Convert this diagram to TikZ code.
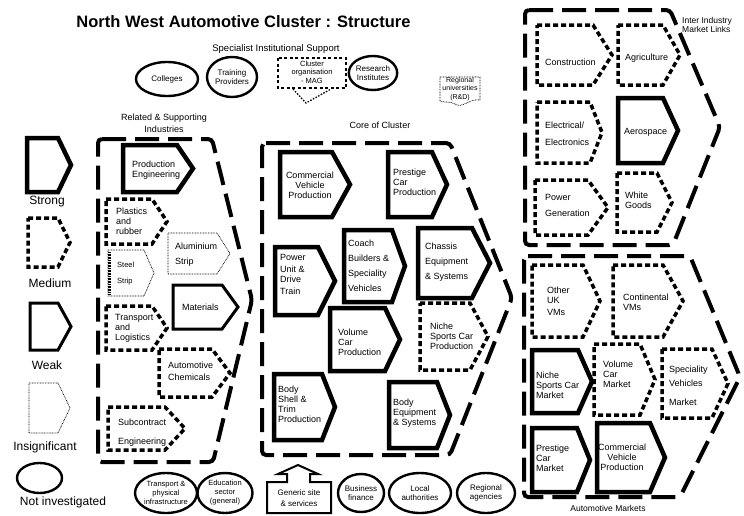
\documentclass[tikz,border=0pt]{standalone}
\usepackage{fontspec}
\setmainfont{Liberation Sans}
\usetikzlibrary{shapes.geometric}

\tikzset{
  strong/.style={line width=4.5pt, line join=miter},
  medium/.style={line width=3.5pt, dash pattern=on 5pt off 3pt},
  weak/.style={line width=3pt, line join=miter},
  insig/.style={line width=0.7pt, dash pattern=on 0.8pt off 0.8pt},
  group/.style={line width=4pt, dash pattern=on 24pt off 9pt, rounded corners=4pt},
  oval/.style={ellipse, draw, line width=2.4pt, inner sep=0pt, align=center,
    font=\fontsize{7.5}{9}\selectfont},
  lbl/.style={anchor=west, align=left, inner sep=0pt, font=\fontsize{9}{10}\selectfont},
  clbl/.style={align=center, inner sep=0pt, font=\fontsize{9}{10}\selectfont},
  hd/.style={align=center, inner sep=0pt, font=\fontsize{9}{12}\selectfont},
  legend/.style={inner sep=0pt, font=\fontsize{12}{14}\selectfont},
}

% pentagon arrow box: [style]{x1}{y1}{x2}{y2}{x where the point begins}
\newcommand\pentbox[6][strong]{%
  \draw[#1] (#2,#3) -- (#6,#3) -- (#4,{(#3+#5)/2}) -- (#6,#5) -- (#2,#5) -- cycle;}

\begin{document}
\begin{tikzpicture}[x=1pt,y=-1pt]
\useasboundingbox (0,0) rectangle (744,515);

% ---------- headings ----------
\node[font=\bfseries\fontsize{16.5}{18}\selectfont, inner sep=0pt] (title) at (243.5,22)
  {North West Automotive Cluster : Structure};
\node[hd, font=\fontsize{9.5}{12}\selectfont] (spec) at (276,49) {Specialist Institutional Support};
\node[hd] (rsi) at (164,123) {Related \& Supporting\\Industries};
\node[hd] (core) at (380,125) {Core of Cluster};
\node[hd, anchor=west, align=left, font=\fontsize{8.5}{9}\selectfont] (iiml) at (682,24.5)
  {Inter Industry\\Market Links};
\node[hd, font=\fontsize{8.5}{10}\selectfont] (am) at (608,508) {Automotive Markets};

% ---------- legend ----------
\pentbox[strong]{27}{138}{71}{192}{58}
\node[legend] (lgstrong) at (47,202) {Strong};
\pentbox[medium]{28}{218}{70}{267}{58}
\node[legend] (lgmedium) at (50,283) {Medium};
\pentbox[weak]{30}{303}{71}{350}{58}
\node[legend] (lgweak) at (47,365) {Weak};
\pentbox[insig]{29}{383}{70}{433}{58}
\node[legend] (lginsig) at (45,447) {Insignificant};
\node[oval, minimum width=45pt, minimum height=30pt] (lgoval) at (39.5,478) {};
\node[legend] (lgnotinv) at (63,502) {Not investigated};

% ---------- specialist institutional support ----------
\node[oval, font=\fontsize{8}{9}\selectfont, minimum width=62pt, minimum height=34pt]
  (colleges) at (167,79) {Colleges};
\node[oval, font=\fontsize{8}{9}\selectfont, minimum width=50pt, minimum height=40pt]
  (training) at (232,77) {Training\\Providers};
\draw[line width=2.2pt, dash pattern=on 3pt off 2.5pt] (278,58) rectangle (346,88);
\draw[line width=1.3pt, dash pattern=on 1.5pt off 1.5pt] (293,89) -- (306,103) -- (331,89);
\node[clbl, font=\fontsize{7.5}{8.5}\selectfont] (clusterorg) at (312,72)
  {Cluster\\organisation\\- MAG};
\node[oval, font=\fontsize{8}{9}\selectfont, minimum width=48pt, minimum height=34pt]
  (research) at (373,73) {Research\\Institutes};
\draw[insig] (440,101) -- (440,77) -- (480,77) -- (480,100)
  .. controls (470,98) and (462,109) .. (455,104)
  .. controls (450,101) and (445,103) .. (440,101);
\node[clbl, font=\fontsize{7}{8.5}\selectfont] (reguni) at (460,89)
  {Regional\\universities\\(R\&D)};

% ---------- related & supporting industries ----------
\draw[group] (98,139) -- (212,139) -- (252,300) -- (213,462) -- (98,462) -- cycle;
\pentbox[strong]{123}{145}{193}{192}{177}
\node[lbl] (tprod) at (132,170) {Production\\Engineering};
\pentbox[medium]{106}{199}{167}{244}{152}
\node[lbl] (tplas) at (116,221) {Plastics\\and\\rubber};
\pentbox[insig]{168}{233}{230}{274}{217}
\node[lbl] (talu) at (175,254.5) {Aluminium\\[5pt]Strip};
\pentbox[insig]{108}{250}{154}{296}{144}
\draw[line width=3pt, dash pattern=on 0.7pt off 0.9pt] (109.5,252) -- (109.5,294);
\node[lbl, font=\fontsize{7.5}{9}\selectfont] (tsteel) at (117,274) {Steel\\[7pt]Strip};
\pentbox[weak]{173}{285}{238}{329}{222}
\node[lbl] (tmat) at (182,307) {Materials};
\pentbox[medium]{106}{306}{167}{350}{152}
\node[lbl] (ttrans) at (115,328.5) {Transport\\and\\Logistics};
\pentbox[medium]{159}{349}{230}{397}{212}
\node[lbl] (tchem) at (168,371) {Automotive\\[2pt]Chemicals};
\pentbox[medium]{108}{407}{185}{450}{165}
\node[lbl] (tsub) at (118,432.5) {Subcontract\\[9pt]Engineering};

% ---------- core of cluster ----------
\draw[group] (262,143) -- (450,143) -- (512,298) -- (450,455) -- (262,455) -- cycle;
\pentbox[strong]{280}{152}{350}{217}{332}
\node[clbl] (tcvp) at (310,185) {Commercial\\Vehicle\\Production};
\pentbox[strong]{388}{152}{447}{217}{432}
\node[lbl] (tpcp) at (393,182.5) {Prestige\\Car\\Production};
\pentbox[strong]{275}{247}{335}{315}{318}
\node[lbl] (tpower) at (280,274.5) {Power\\[2pt]Unit \&\\Drive\\[2pt]Train};
\pentbox[strong]{344}{230}{405}{302}{392}
\node[lbl] (tcoach) at (348,266) {Coach\\[5pt]Builders \&\\[5pt]Speciality\\[5pt]Vehicles};
\pentbox[strong]{418}{228}{490}{298}{472}
\node[lbl] (tchassis) at (425,262) {Chassis\\[5pt]Equipment\\[5pt]\& Systems};
\pentbox[strong]{330}{308}{400}{371}{385}
\node[lbl] (tvol) at (338,342.5) {Volume\\Car\\Production};
\pentbox[medium]{420}{303}{488}{370}{470}
\node[lbl] (tniche) at (430,336.5) {Niche\\Sports Car\\Production};
\pentbox[strong]{274}{374}{335}{440}{322}
\node[lbl] (tbody) at (278,404.5) {Body\\Shell \&\\Trim\\Production};
\pentbox[strong]{389}{382}{450}{448}{437}
\node[lbl] (tbeq) at (393,413) {Body\\Equipment\\\& Systems};

% ---------- inter industry market links ----------
\draw[group] (525,10) -- (670,10) -- (720,127) -- (673,245) -- (525,245) -- cycle;
\pentbox[medium]{537}{25}{612}{85}{593}
\node[lbl] (tcons) at (545,62) {Construction};
\pentbox[medium]{618}{25}{680}{85}{663}
\node[lbl] (tagri) at (625,58) {Agriculture};
\pentbox[medium]{537}{102}{602}{163}{590}
\node[lbl] (telec) at (545,133.5) {Electrical/\\[7pt]Electronics};
\pentbox[strong]{618}{98}{678}{163}{663}
\node[lbl] (taero) at (624,132) {Aerospace};
\pentbox[medium]{535}{180}{608}{235}{588}
\node[lbl] (tpowg) at (545,205) {Power\\[6pt]Generation};
\pentbox[medium]{617}{173}{672}{232}{657}
\node[lbl] (twhite) at (625,200) {White\\Goods};

% ---------- automotive markets ----------
\draw[group] (524,256) -- (690,256) -- (740,377) -- (680,497) -- (524,497) -- cycle;
\pentbox[medium]{532}{265}{600}{337}{583}
\node[lbl] (tother) at (547,301.5) {Other\\UK\\[2pt]VMs};
\pentbox[medium]{613}{265}{683}{337}{663}
\node[lbl] (tcont) at (623,302) {Continental\\VMs};
\pentbox[strong]{532}{350}{592}{413}{578}
\node[lbl] (tnichem) at (536,385) {Niche\\Sports Car\\Market};
\pentbox[medium]{594}{344}{655}{415}{640}
\node[lbl] (tvolm) at (603,374.5) {Volume\\Car\\Market};
\pentbox[medium]{662}{349}{728}{418}{712}
\node[lbl] (tspec) at (669,385.5) {Speciality\\[4pt]Vehicles\\[9pt]Market};
\pentbox[strong]{532}{428}{590}{492}{577}
\node[lbl] (tprem) at (536,458.5) {Prestige\\Car\\Market};
\pentbox[strong]{597}{423}{665}{492}{650}
\node[clbl] (tcvpm) at (622,457.5) {Commercial\\Vehicle\\Production};

% ---------- generic support along the bottom ----------
\node[oval, minimum width=62pt, minimum height=40pt] (transport) at (166,493)
  {Transport \&\\physical\\infrastructure};
\node[oval, minimum width=55pt, minimum height=40pt] (education) at (225,493)
  {Education\\sector\\(general)};
\draw[line width=2pt, line join=miter] (267,482) -- (287,482) -- (287,474) -- (278,474)
  -- (298,465) -- (318,474) -- (310,474) -- (310,482) -- (331,482) -- (331,513)
  -- (267,513) -- cycle;
\node[clbl, font=\fontsize{8}{11}\selectfont] (generic) at (299,498) {Generic site\\\& services};
\node[oval, font=\fontsize{8}{9}\selectfont, minimum width=46pt, minimum height=38pt]
  (finance) at (361,493) {Business\\finance};
\node[oval, font=\fontsize{8}{9}\selectfont, minimum width=62pt, minimum height=40pt]
  (local) at (420,493) {Local\\authorities};
\node[oval, font=\fontsize{8}{9}\selectfont, minimum width=58pt, minimum height=40pt]
  (agencies) at (486,493) {Regional\\agencies};
\end{tikzpicture}
\end{document}
